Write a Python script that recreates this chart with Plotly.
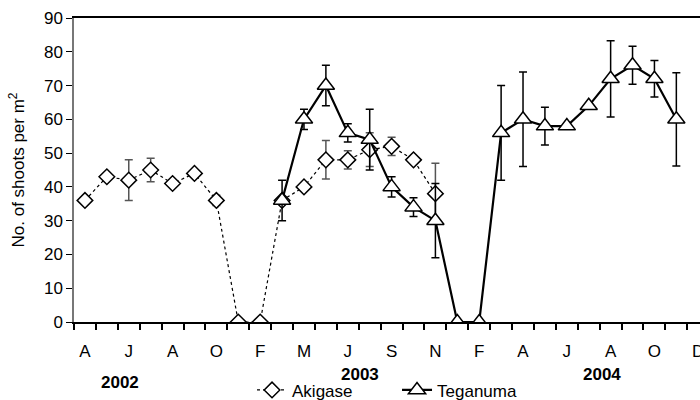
import plotly.graph_objects as go

# category index along the time axis (one category per sampling month)
month_labels = ["A", "", "J", "", "A", "", "O", "", "F", "", "M", "", "J", "", "S", "",
                "N", "", "F", "", "A", "", "J", "", "A", "", "O", "", "D"]

akigase_x = [0, 1, 2, 3, 4, 5, 6, 7, 8, 9, 10, 11, 12, 13, 14, 15, 16]
akigase_y = [36, 43, 42, 45, 41, 44, 36, 0, 0, 36, 40, 48, 48, 51, 52, 48, 38]
akigase_err = [0.8, 0.5, 6, 3.5, 1, 1, 1.5, 0, 0, 1, 0.5, 5.7, 2.7, 5, 2.7, 0.5, 9]

teganuma_x = [9, 10, 11, 12, 13, 14, 15, 16, 17, 18, 19, 20, 21, 22, 23, 24, 25, 26, 27]
teganuma_y = [36, 60, 70, 56, 54, 40, 34, 30, 0, 0, 56, 60, 58, 58, 64, 72, 76, 72, 60]
teganuma_err = [6, 3, 6, 2.7, 9, 3, 2.8, 11, 0, 0, 14, 14, 5.6, 0, 0, 11.3, 5.6, 5.4, 13.8]

years = ["2002", "2003", "2004"]
year_pos = [1.6, 12.56, 23.6]
year_y = [-0.2, -0.174, -0.174]

y_ticks = [0, 10, 20, 30, 40, 50, 60, 70, 80, 90]

FONT = "Arial, Liberation Sans, sans-serif"

fig = go.Figure()
fig.add_trace(go.Scatter(
    x=akigase_x, y=akigase_y, name="Akigase", mode="lines+markers",
    line=dict(color="black", width=1.2, dash="dot"),
    marker=dict(symbol="diamond", size=12, color="white", line=dict(color="black", width=1.5)),
    error_y=dict(type="data", array=akigase_err, visible=True, color="#555555", thickness=1.5, width=4),
))
fig.add_trace(go.Scatter(
    x=teganuma_x, y=teganuma_y, name="Teganuma", mode="lines+markers",
    line=dict(color="black", width=2.2),
    marker=dict(symbol="triangle-up", size=15, color="white", line=dict(color="black", width=1.5)),
    error_y=dict(type="data", array=teganuma_err, visible=True, color="black", thickness=1.5, width=4),
))

for yr, xp, yp in zip(years, year_pos, year_y):
    fig.add_annotation(text="<b>" + yr + "</b>", x=xp, xref="x", y=yp, yref="paper",
                       yanchor="middle", showarrow=False,
                       font=dict(size=17, color="black", family=FONT))

fig.update_layout(
    width=700, height=400,
    margin=dict(l=74, r=0, t=18, b=78, autoexpand=False),
    paper_bgcolor="white", plot_bgcolor="white",
    font=dict(family=FONT, color="black"),
    showlegend=True,
    legend=dict(orientation="h", x=0.516, xanchor="center", y=-0.225, yanchor="middle",
                font=dict(size=17, family=FONT), bgcolor="rgba(0,0,0,0)",
                entrywidth=100, entrywidthmode="pixels"),
    xaxis=dict(
        range=[-0.5, 28.08], showgrid=False, zeroline=False, automargin=False,
        showline=True, linecolor="black", linewidth=1.5, mirror=True,
        tickmode="array", tickvals=list(range(len(month_labels))), ticktext=month_labels,
        ticks="outside", ticklen=13, tickcolor="rgba(0,0,0,0)",
        tickfont=dict(size=17, family=FONT), ticklabeloverflow="allow",
        minor=dict(tickmode="array", tickvals=[i - 0.5 for i in range(len(month_labels) + 1)],
                   ticks="outside", ticklen=6, tickwidth=1.5, tickcolor="black"),
    ),
    yaxis=dict(
        range=[0, 90], showgrid=False, zeroline=False, automargin=False,
        showline=True, linecolor="#777777", linewidth=1.5,
        tickmode="array", tickvals=y_ticks,
        ticks="outside", ticklen=6, tickcolor="black",
        tickfont=dict(size=17, family=FONT),
        title=dict(text="No. of shoots per m<sup>2</sup>", font=dict(size=17, family=FONT)),
    ),
)

fig.write_html("out.html", config={"displayModeBar": False},
               post_script="document.body.style.margin='0';document.body.style.overflow='hidden';")
